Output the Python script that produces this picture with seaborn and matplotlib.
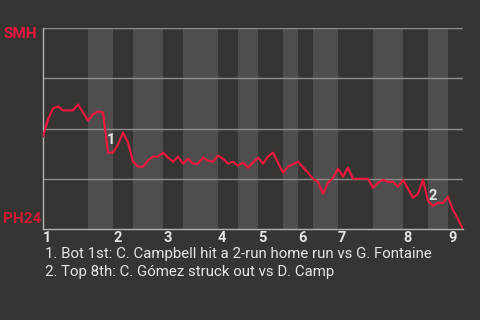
import matplotlib
matplotlib.use("Agg")
import matplotlib.pyplot as plt
import pandas as pd
import seaborn as sns

# Win probability for SMH after each plate appearance (PH24 = 1 - value)
events = [0, 1, 2, 3, 4, 6, 7, 9, 10, 11, 12, 13, 14, 15, 16, 17, 18, 19, 20,
          21, 22, 23, 24, 25, 26, 27, 28, 29, 30, 31, 32, 33, 34, 35, 36, 37,
          38, 39, 40, 41, 43, 44, 45, 46, 48, 49, 51, 53, 54, 55, 56, 57, 58,
          59, 60, 61, 62, 65, 66, 67, 68, 69, 70, 71, 72, 74, 75, 76, 77, 78,
          79, 80, 81, 82, 83, 84]
smh_win_prob = [0.46, 0.545, 0.60, 0.61, 0.59, 0.59, 0.62, 0.54, 0.57, 0.585,
                0.58, 0.38, 0.38, 0.42, 0.48, 0.43, 0.335, 0.31, 0.31, 0.34,
                0.36, 0.36, 0.38, 0.355, 0.335, 0.36, 0.325, 0.35, 0.325,
                0.325, 0.355, 0.34, 0.335, 0.365, 0.35, 0.325, 0.335, 0.315,
                0.33, 0.305, 0.355, 0.325, 0.36, 0.38, 0.28, 0.31, 0.335,
                0.28, 0.25, 0.235, 0.175, 0.23, 0.255, 0.30, 0.26, 0.305,
                0.25, 0.25, 0.205, 0.23, 0.245, 0.235, 0.235, 0.21, 0.245,
                0.155, 0.175, 0.245, 0.14, 0.115, 0.13, 0.13, 0.16, 0.095,
                0.05, 0.0]

# First plate appearance of each half-inning, plus the final one
half_inning_starts = [0, 9, 14, 18, 24, 28, 35, 39, 43, 48, 51, 54, 59, 66,
                      72, 77, 81]
last_event = 84
inning_labels = ["1", "2", "3", "4", "5", "6", "7", "8", "9"]

away_team = "SMH"
home_team = "PH24"

# Key plays
key_events = [13, 77]
key_marks = ["1", "2"]
key_notes = ["1. Bot 1st: C. Campbell hit a 2-run home run vs G. Fontaine",
             "2. Top 8th: C. Gómez struck out vs D. Camp"]

BG = "#373532"
BAND = "#504e4c"
LINE = "#f5163f"
TEXT = "#e4e4e4"

sns.set_theme(style="dark")
plt.rcParams["font.family"] = ["Roboto", "DejaVu Sans"]

fig = plt.figure(figsize=(4.8, 3.2), dpi=100, facecolor=BG)
ax = fig.add_axes([43 / 480, (320 - 229) / 320, 420 / 480, 201 / 320])
ax.set_facecolor(BG)

# Shade the bottom half of each inning
edges = half_inning_starts + [last_event]
for i in range(len(half_inning_starts)):
    if i % 2 == 1:
        ax.axvspan(edges[i], edges[i + 1], color=BAND, lw=0, zorder=0)

for g in [0.25, 0.5, 0.75, 1.0]:
    ax.axhline(g, color="#8f8d8b", lw=1.0, zorder=1)

df = pd.DataFrame({"event": events, "prob": smh_win_prob})
sns.lineplot(data=df, x="event", y="prob", ax=ax, color=LINE, lw=1.5,
             zorder=3, estimator=None)

ax.set_xlim(0, last_event)
ax.set_ylim(0, 1)
ax.set_xlabel("")
ax.set_ylabel("")
ax.set_yticks([])

top_starts = half_inning_starts[0::2]
ax.set_xticks(top_starts)
ax.set_xticklabels(inning_labels, fontsize=10.5, fontweight="bold", color=TEXT)
for lbl in ax.get_xticklabels():
    lbl.set_horizontalalignment("left")
ax.tick_params(axis="x", length=0, pad=1.5)

for side in ["top", "right"]:
    ax.spines[side].set_visible(False)
for side in ["left", "bottom"]:
    ax.spines[side].set_visible(True)
    ax.spines[side].set_color("#b4b2b0")
    ax.spines[side].set_linewidth(1.0)

# Numbered markers for key plays
offsets = [(2.4, 9.0), (3.6, 3.4)]
for ev, mark, off in zip(key_events, key_marks, offsets):
    yv = smh_win_prob[events.index(ev)]
    ax.annotate(mark, (ev, yv), xytext=off, textcoords="offset points",
                ha="center", va="center", fontsize=10.5, fontweight="bold",
                color=TEXT, zorder=4)

# Team labels at the top and bottom of the scale
fig.text(3 / 480, 1 - 34 / 320, away_team, ha="left", va="center",
         fontsize=11, fontweight="bold", color="#e8173f")
fig.text(3 / 480, 1 - 219 / 320, home_team, ha="left", va="center",
         fontsize=11, fontweight="bold", color="#cc1a33")

for i, note in enumerate(key_notes):
    fig.text(45 / 480, 1 - (258 + 17.7 * i) / 320, note, ha="left",
             va="baseline", fontsize=10.8, color=TEXT)

fig.savefig("out.png", dpi=100, facecolor=BG)
